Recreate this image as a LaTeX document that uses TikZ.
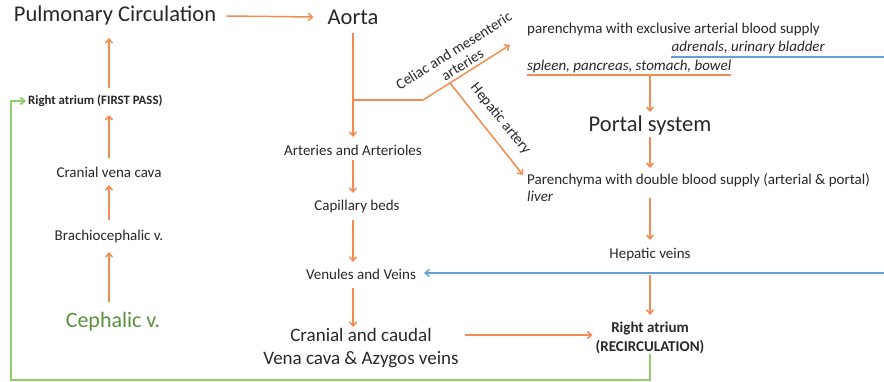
\documentclass[tikz,border=0pt]{standalone}
\usepackage{fontspec}
\setmainfont{Carlito}
\usetikzlibrary{arrows.meta,calc}
\definecolor{orn}{RGB}{242,140,80}
\definecolor{blu}{RGB}{100,160,215}
\definecolor{grn}{RGB}{145,205,105}
\definecolor{dgrn}{RGB}{90,145,60}
\definecolor{txt}{RGB}{40,40,40}
\begin{document}
\begin{tikzpicture}[x=1pt,y=-1pt,
  lbl/.style={inner sep=0pt, text=txt, font=\fontsize{15}{18}\selectfont},
  bld/.style={inner sep=0pt, text=txt, font=\bfseries\fontsize{15}{19}\selectfont},
  itl/.style={inner sep=0pt, text=txt, font=\itshape\fontsize{15}{18}\selectfont},
  big/.style={inner sep=0pt, text=txt, font=\fontsize{22.5}{27}\selectfont},
  mid/.style={inner sep=0pt, text=txt, font=\fontsize{19}{23}\selectfont},
  tip/.style={-{Straight Barb[length=4pt,width=7pt]}},
  arr/.style={draw=orn, line width=1.5pt, tip},
  oline/.style={draw=orn, line width=1.5pt},
  bline/.style={draw=blu, line width=1.5pt},
  barr/.style={draw=blu, line width=1.5pt, tip},
  gline/.style={draw=grn, line width=2pt},
]
\useasboundingbox (0,0) rectangle (884,382);

% nodes
\node[big] (pulm) at (115,16) {Pulmonary Circulation};
\node[big] (aorta) at (353,17) {Aorta};
\node[bld, font=\bfseries\fontsize{12.8}{16}\selectfont, anchor=west] (ra1) at (28,101) {Right atrium (FIRST PASS)};
\node[lbl] (cvc) at (109,172) {Cranial vena cava};
\node[lbl] (brach) at (109,237) {Brachiocephalic v.};
\node[inner sep=0pt, text=dgrn, font=\fontsize{22}{26}\selectfont] (ceph) at (113,322) {Cephalic v.};

\node[lbl] (art) at (353,150) {Arteries and Arterioles};
\node[lbl] (cap) at (357,207) {Capillary beds};
\node[lbl] (ven) at (361,274) {Venules and Veins};
\node[mid, align=center] (cava) at (361,348.5) {Cranial and caudal\\Vena cava \& Azygos veins};

\node[lbl, anchor=west] (excl) at (527,30) {parenchyma with exclusive arterial blood supply};
\node[itl, anchor=east] (adren) at (825,48) {adrenals, urinary bladder};
\node[itl, anchor=west] (spleen) at (527,67) {spleen, pancreas, stomach, bowel};
\node[big] (portal) at (650,126) {Portal system};
\node[lbl, anchor=west] (dbl) at (527,180) {Parenchyma with double blood supply (arterial \& portal)};
\node[itl, anchor=west] (liver) at (527,196) {liver};
\node[lbl] (hepv) at (650,255) {Hepatic veins};
\node[bld, align=center] (ra2) at (650,337.5) {Right atrium\\(RECIRCULATION)};

\node[lbl, align=center, rotate=32, font=\fontsize{15}{16.5}\selectfont] (celLbl) at (458,57.5) {Celiac and mesenteric\\arteries};
\node[lbl, rotate=-51] (hepLbl) at (500.5,119) {Hepatic artery};

% coordinates
\coordinate (bend) at (423,100);
\coordinate (celEnd) at ($(excl.west)+(-17,15)$);
\coordinate (edgeT) at (884,57);
\coordinate (edgeB) at (884,273);
\coordinate (gcorner) at (11,380);

% top
\draw[arr] ($(pulm.east)+(10,0)$) -- ($(aorta.west)+(-14,0)$);

% middle column
\draw[arr] ($(aorta)+(0,16)$) -- ($(art)+(0,-13)$);
\draw[oline] (aorta |- bend) -- (bend);
\draw[arr] (bend) -- (celEnd);
\draw[arr] ($(bend)!0.31!(celEnd)$) -- ($(dbl.west)+(-4,-5)$);
\draw[arr] ($(art)+(0,10)$) -- ($(art |- cap)+(0,-14)$);
\draw[arr] ($(art |- cap)+(0,13)$) -- ($(art |- ven)+(0,-12)$);
\draw[arr] ($(art |- ven)+(0,14)$) -- ($(art |- cava)+(0,-21.5)$);
\draw[arr] ($(cava.east)+(6,-13.5)$) -- ($(ra2.west)+(-3,-2.5)$);

% left column
\draw[arr] ($(brach |- ceph)+(0,-20)$) -- ($(brach)+(0,15)$);
\draw[arr] ($(brach)+(0,-17)$) -- ($(cvc)+(0,13)$);
\draw[arr] ($(cvc)+(0,-14)$) -- ($(cvc |- ra1)+(0,14)$);
\draw[arr] ($(cvc |- ra1)+(0,-13)$) -- ($(cvc |- pulm)+(0,22)$);

% right column
\draw[oline] ($(spleen.west)+(0,8)$) -- ($(spleen.east)+(0,8)$);
\draw[arr] ($(portal)+(0,-50)$) -- ($(portal)+(0,-14)$);
\draw[arr] ($(portal)+(0,11)$) -- ($(portal |- dbl)+(0,-12)$);
\draw[arr] ($(portal |- dbl)+(0,18)$) -- ($(hepv)+(0,-15)$);
\draw[arr] ($(hepv)+(0,20)$) -- ($(ra2)+(0,-22.5)$);

% blue
\draw[bline] (edgeT) -- ($(adren.west)+(0,9)$);
\draw[barr] (edgeB) -- ($(ven.east)+(8,-1)$);

% green
\draw[gline, tip, shorten >=2pt] (ra2.south) |- (gcorner) |- (ra1.west);
\end{tikzpicture}
\end{document}
